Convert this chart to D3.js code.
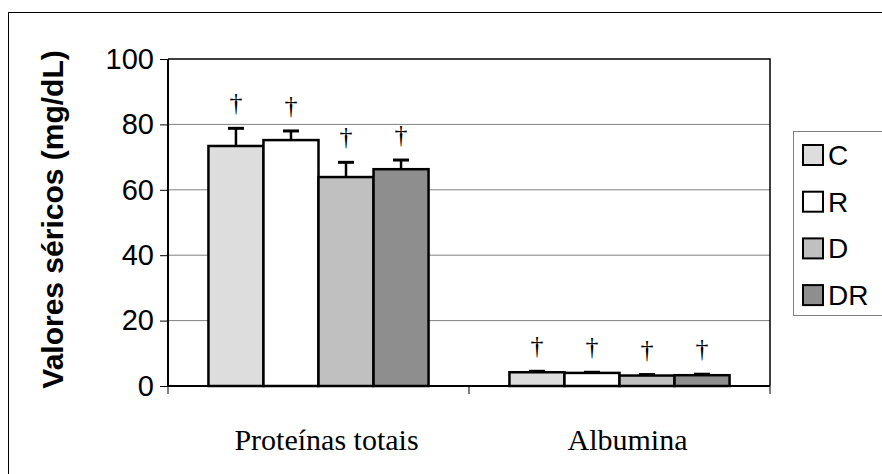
<!DOCTYPE html>
<html>
<head>
<meta charset="utf-8">
<title>Valores séricos</title>
<script src="https://d3js.org/d3.v7.min.js"></script>
<style>
  body { margin: 0; background: #fff; }
  svg { display: block; }
  .grid line { stroke: #808080; stroke-width: 1; }
</style>
</head>
<body>
<svg width="882" height="474"></svg>
<script>

// data
var categories = ["Proteínas totais", "Albumina"];
var groups = ["C", "R", "D", "DR"];
var colors = ["#dddddd", "#ffffff", "#c0c0c0", "#8e8e8e"];
var protTotais = [73.4, 75.2, 63.9, 66.3];
var protErr    = [5.4, 2.8, 4.5, 2.8];
var albumina   = [4.2, 4.0, 3.2, 3.3];
var albErr     = [0.3, 0.2, 0.3, 0.3];
var yTicks = [0, 20, 40, 60, 80, 100];
var yLabel = "Valores séricos (mg/dL)";

var svg = d3.select("svg"),
    width = +svg.attr("width"),
    height = +svg.attr("height");

var margin = {top: 59, right: 112, bottom: 88, left: 168};
var plotW = width - margin.left - margin.right,
    plotH = height - margin.top - margin.bottom;

svg.append("rect")
    .attr("width", width).attr("height", height)
    .attr("fill", "#fff");

// outer chart frame (runs off the right and bottom edge)
svg.append("rect")
    .attr("x", 8.5).attr("y", 12.5)
    .attr("width", 900).attr("height", 500)
    .attr("fill", "none").attr("stroke", "#000").attr("stroke-width", 1);

var g = svg.append("g").attr("transform", "translate(" + margin.left + "," + margin.top + ")");

var y = d3.scaleLinear().domain([0, 100]).range([plotH, 0]);
var x0 = d3.scaleBand().domain(categories).range([0, plotW]);
var x1 = d3.scaleBand().domain(groups).range([0, x0.bandwidth()])
    .paddingInner(0).paddingOuter(0.735);

var rows = [
  {cat: categories[0], vals: protTotais, errs: protErr},
  {cat: categories[1], vals: albumina, errs: albErr}
];

// gridlines
g.append("g").attr("class", "grid")
  .selectAll("line")
  .data(yTicks.filter(function(d) { return d > 0 && d < 100; }))
  .enter().append("line")
    .attr("x1", 0).attr("x2", plotW)
    .attr("y1", function(d) { return y(d); })
    .attr("y2", function(d) { return y(d); });

// plot frame top/right
g.append("path")
    .attr("d", "M0,0H" + plotW + "V" + plotH)
    .attr("fill", "none").attr("stroke", "#000").attr("stroke-width", 1.5);

// bars
var grp = g.selectAll(".grp")
  .data(rows)
  .enter().append("g")
    .attr("class", "grp")
    .attr("transform", function(d) { return "translate(" + x0(d.cat) + ",0)"; });

var items = grp.selectAll(".item")
  .data(function(d) {
    return groups.map(function(s, i) { return {s: s, i: i, v: d.vals[i], e: d.errs[i]}; });
  })
  .enter().append("g").attr("class", "item");

items.append("line")
    .attr("x1", function(d) { return x1(d.s) + x1.bandwidth() / 2; })
    .attr("x2", function(d) { return x1(d.s) + x1.bandwidth() / 2; })
    .attr("y1", function(d) { return y(d.v); })
    .attr("y2", function(d) { return y(d.v + d.e); })
    .attr("stroke", "#000").attr("stroke-width", 2.5);

items.append("line")
    .attr("x1", function(d) { return x1(d.s) + x1.bandwidth() / 2 - 8; })
    .attr("x2", function(d) { return x1(d.s) + x1.bandwidth() / 2 + 8; })
    .attr("y1", function(d) { return y(d.v + d.e); })
    .attr("y2", function(d) { return y(d.v + d.e); })
    .attr("stroke", "#000").attr("stroke-width", 3);

items.append("rect")
    .attr("x", function(d) { return x1(d.s); })
    .attr("y", function(d) { return y(d.v); })
    .attr("width", x1.bandwidth())
    .attr("height", function(d) { return plotH - y(d.v); })
    .attr("fill", function(d) { return colors[d.i]; })
    .attr("stroke", "#000").attr("stroke-width", 2.5);

// daggers
items.append("text")
    .attr("x", function(d) { return x1(d.s) + x1.bandwidth() / 2; })
    .attr("y", function(d) { return y(d.v + d.e) - 17; })
    .attr("text-anchor", "middle")
    .style("font", "26px 'Liberation Serif', 'Times New Roman', serif")
    .text("†");

// y axis
var yAxis = g.append("g")
    .call(d3.axisLeft(y).tickValues(yTicks).tickSize(8).tickPadding(6));
yAxis.select(".domain").attr("stroke-width", 2).attr("d", "M0,0V" + plotH);
yAxis.selectAll(".tick line").attr("stroke-width", 1);
yAxis.selectAll("text")
    .style("font", "29px 'Liberation Sans', Arial, sans-serif")
    .attr("fill", "#000");

// x axis: ticks at category boundaries
var xAxis = g.append("g").attr("transform", "translate(0," + plotH + ")");
xAxis.append("line")
    .attr("x1", 0).attr("x2", plotW)
    .attr("stroke", "#000").attr("stroke-width", 2);
xAxis.selectAll(".xt")
  .data([0].concat(categories.map(function(c) { return x0(c) + x0.bandwidth(); })))
  .enter().append("line")
    .attr("x1", function(d) { return d; }).attr("x2", function(d) { return d; })
    .attr("y1", 0).attr("y2", 8)
    .attr("stroke", "#000").attr("stroke-width", 1);
xAxis.selectAll(".xl")
  .data(categories)
  .enter().append("text")
    .attr("x", function(d) { return x0(d) + x0.bandwidth() / 2 + 8; })
    .attr("y", 64)
    .attr("text-anchor", "middle")
    .style("font", "30px 'Liberation Serif', 'Times New Roman', serif")
    .text(function(d) { return d; });

// y label
svg.append("text")
    .attr("transform", "translate(63," + (margin.top + plotH / 2 - 3) + ") rotate(-90)")
    .attr("text-anchor", "middle")
    .style("font", "bold 30px 'Liberation Sans', Arial, sans-serif")
    .text(yLabel);

// legend
var lg = svg.append("g").attr("transform", "translate(793,131)");
lg.append("rect")
    .attr("x", 0.5).attr("y", 0.5)
    .attr("width", 120).attr("height", 184)
    .attr("fill", "#fff").attr("stroke", "#808080").attr("stroke-width", 1);
var li = lg.selectAll(".li")
  .data(groups)
  .enter().append("g")
    .attr("transform", function(d, i) { return "translate(0," + (24 + i * 46.7) + ")"; });
li.append("rect")
    .attr("x", 10).attr("y", -10)
    .attr("width", 20).attr("height", 20)
    .attr("fill", function(d, i) { return colors[i]; })
    .attr("stroke", "#000").attr("stroke-width", 2);
li.append("text")
    .attr("x", 35).attr("y", 10)
    .style("font", "28px 'Liberation Sans', Arial, sans-serif")
    .text(function(d) { return d; });

</script>
</body>
</html>
